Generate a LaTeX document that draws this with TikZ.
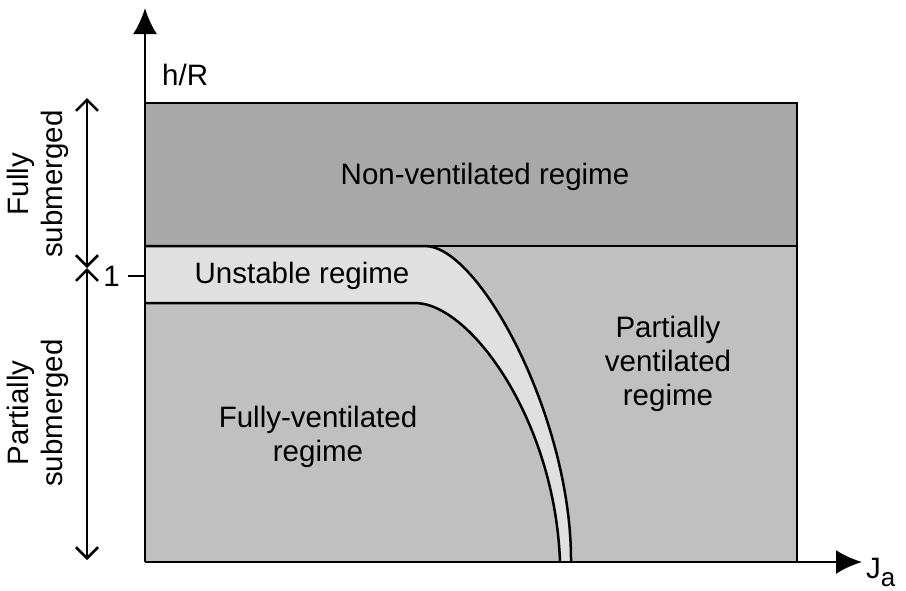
\documentclass[tikz,border=0pt]{standalone}
\usepackage{fontspec}
\setmainfont{Liberation Sans}
\usetikzlibrary{arrows.meta}
\definecolor{darkzone}{RGB}{168,168,168}
\definecolor{midzone}{RGB}{192,192,192}
\definecolor{lightzone}{RGB}{224,224,224}
\tikzset{
  lbl/.style={font=\fontsize{29.5}{34}\selectfont,align=center,inner sep=0pt},
  axis/.style={line width=2.5pt,-{Latex[length=26pt,width=24pt]}},
  span/.style={line width=2.5pt,{Straight Barb[length=11pt,width=22pt]}-{Straight Barb[length=11pt,width=22pt]}},
  border/.style={line width=2.5pt},
}
\begin{document}
\begin{tikzpicture}[x=1pt,y=-1pt]
\useasboundingbox (0,0) rectangle (906,590);
% corners of the chart
\coordinate (O) at (145,562);
\coordinate (TR) at (797,103);
\coordinate (Ytip) at (145,8);
\coordinate (Xtip) at (862,562);
% regions
\fill[midzone] (O) rectangle (TR);
\fill[darkzone] (145,103) rectangle (797,246);
\fill[lightzone] (145,246) -- (425,246) .. controls (480,246) and (572,420) .. (571,562)
  -- (560,562) .. controls (555,420) and (470,303) .. (415,303) -- (145,303) -- cycle;
\draw[border] (145,103) -- (797,103) -- (797,562);
\draw[border] (145,246) -- (797,246);
\draw[border] (145,246) -- (425,246) .. controls (480,246) and (572,420) .. (571,562);
\draw[border] (145,303) -- (415,303) .. controls (470,303) and (555,420) .. (560,562);
% axes
\draw[axis] (O) -- (Ytip);
\draw[axis] (O) -- (Xtip);
\node[lbl,anchor=west] (hR) at (162,75) {h/R};
\node[lbl,anchor=west] (Ja) at (866,572) {J\raisebox{-8pt}{\fontsize{26}{26}\selectfont a}};
% tick at 1
\coordinate (tk) at (128,276);
\draw[border] (tk) -- (145,276);
\node[lbl,anchor=east] (one) at (120,276) {1};
% submersion spans
\coordinate (s1) at (87,98);
\coordinate (s2) at (87,268);
\coordinate (s3) at (87,560);
\draw[span] (s1) -- (s2);
\draw[span] (s2) -- (s3);
\node[lbl,rotate=90] (full) at (38,184) {Fully\\submerged};
\node[lbl,rotate=90] (part) at (38,413) {Partially\\submerged};
% regime labels
\node[lbl] (nonv) at (485,177) {Non-ventilated regime};
\node[lbl] (unst) at (302,276) {Unstable regime};
\node[lbl] (fullv) at (318,437) {Fully-ventilated\\regime};
\node[lbl] (partv) at (668,364) {Partially\\ventilated\\regime};
\end{tikzpicture}
\end{document}
